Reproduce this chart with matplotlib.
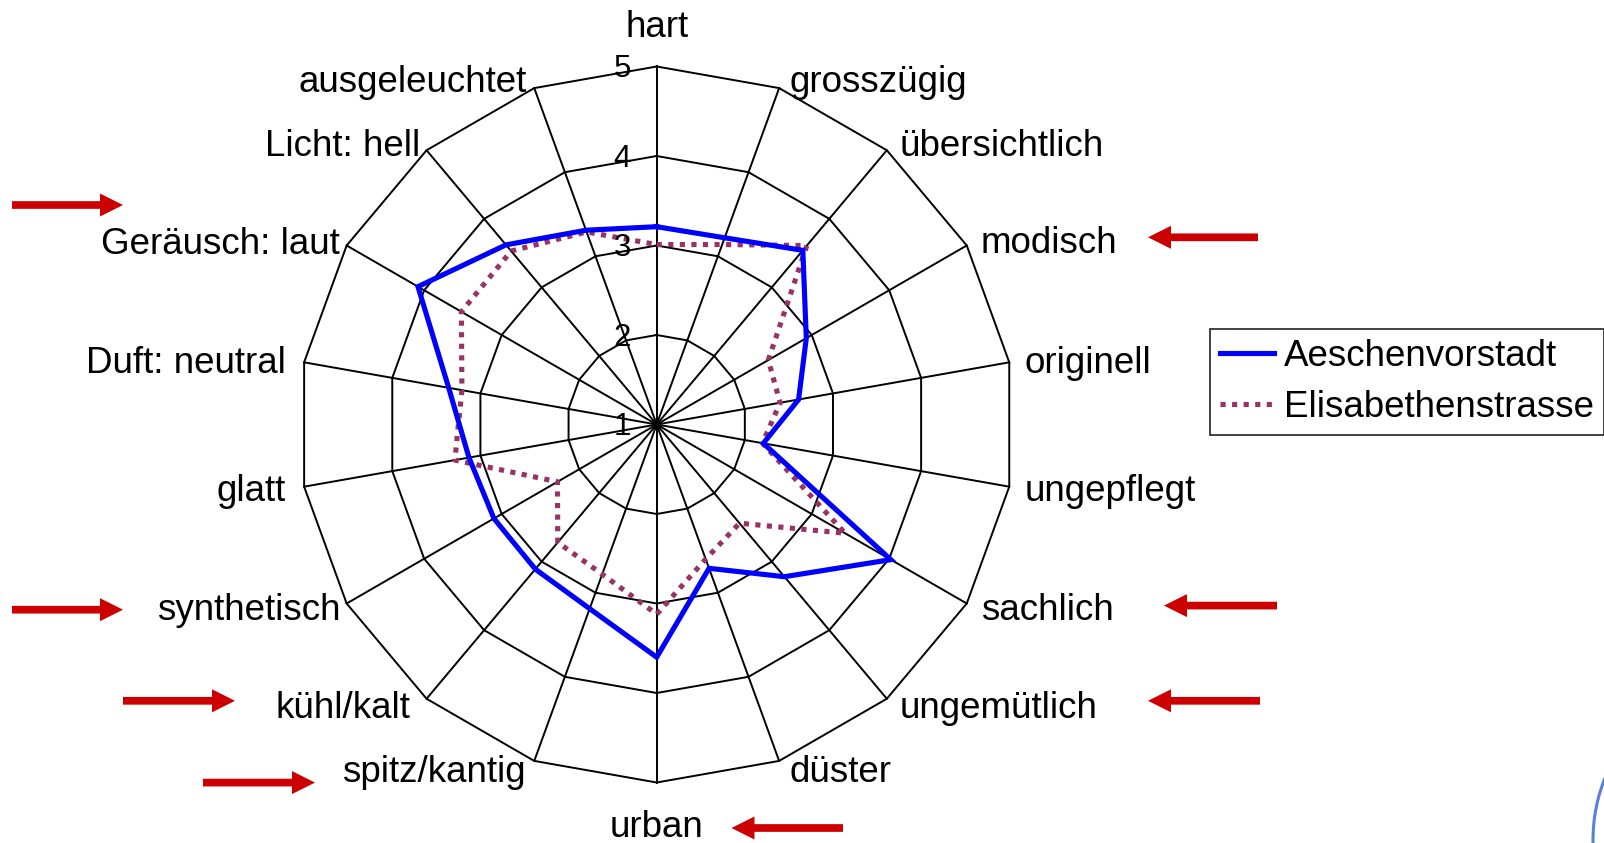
import numpy as np
import matplotlib
matplotlib.use("Agg")
import matplotlib.pyplot as plt
from matplotlib.patches import FancyArrow, Circle
from matplotlib.lines import Line2D

plt.rcParams['font.family'] = ['Liberation Sans', 'DejaVu Sans']

# ---------------- data ----------------
categories = ["hart", "grosszügig", "übersichtlich", "modisch", "originell",
              "ungepflegt", "sachlich", "ungemütlich", "düster", "urban",
              "spitz/kantig", "kühl/kalt", "synthetisch", "glatt",
              "Duft: neutral", "Geräusch: laut", "Licht: hell", "ausgeleuchtet"]
aeschenvorstadt = [3.21, 3.22, 3.54, 2.93, 2.61, 2.21, 4.02, 3.22, 2.71, 3.60,
                   3.19, 3.11, 3.10, 3.13, 3.36, 4.08, 3.62, 3.31]
elisabethenstrasse = [3.01, 3.14, 3.61, 2.44, 2.40, 2.20, 3.43, 2.44, 2.60, 3.12,
                      2.78, 2.72, 2.28, 3.29, 3.21, 3.52, 3.53, 3.29]
series_names = ["Aeschenvorstadt", "Elisabethenstrasse"]
tick_values = [1, 2, 3, 4, 5]
tick_labels = ["1", "2", "3", "4", "5"]

# ---------------- layout ----------------
# horizontal offsets (pixels) of each category label from its outer vertex
label_dx = [0, 10.4, 12.5, 14.1, 14.9, 14.9, 14.1, 12.5, 10.4, 0,
            -8.3, -16.5, -5.9, -17.9, -17.9, -6.9, -6.3, -7.3]

W, H = 1604, 843
fig = plt.figure(figsize=(W / 100, H / 100), dpi=100)
cx, cy, R = 656.7, 424.5, 358.0
ax = fig.add_axes([(cx - R) / W, (H - cy - R) / H, 2 * R / W, 2 * R / H],
                  projection='polar')
ax.set_theta_zero_location('N')
ax.set_theta_direction(-1)
ax.set_ylim(1, 5)
ax.grid(False)
ax.set_xticks([])
ax.set_yticks([])
ax.spines['polar'].set_visible(False)
ax.patch.set_visible(False)

n = len(categories)
theta = np.arange(n) * 2 * np.pi / n
theta_c = np.append(theta, theta[0])

# polygon grid
for lvl in tick_values[1:]:
    ax.plot(theta_c, [lvl] * (n + 1), color='black', lw=1.4, clip_on=False, zorder=1)
for t in theta:
    ax.plot([t, t], [tick_values[0], tick_values[-1]], color='black', lw=1.4,
            clip_on=False, zorder=1)

# series
blue = '#0000FF'
purple = '#993366'
ax.plot(theta_c, aeschenvorstadt + aeschenvorstadt[:1], color=blue, lw=3.7,
        clip_on=False, zorder=3, solid_joinstyle='miter')
ax.plot(theta_c, elisabethenstrasse + elisabethenstrasse[:1], color=purple, lw=3.7,
        linestyle=(0, (1, 1.25)), dash_capstyle='butt', clip_on=False, zorder=2)

# tick labels along the top spoke
for v, lab in zip(tick_values, tick_labels):
    ax.annotate(lab, xy=(0, v), xytext=(-26, -3), textcoords='offset pixels',
                ha='right', va='center', fontsize=22.5, annotation_clip=False,
                zorder=4)

# category labels
for t, lab, dx in zip(theta, categories, label_dx):
    a = np.pi / 2 - t  # math angle
    c, s = np.cos(a), np.sin(a)
    if abs(c) < 1e-6:
        dy, ha = 42 * np.sign(s) - 3, 'center'
    else:
        dy = 9 * s - 3
        ha = 'left' if c > 0 else 'right'
    ax.annotate(lab, xy=(t, 5), xytext=(dx, dy), textcoords='offset pixels',
                ha=ha, va='center', fontsize=26.5, annotation_clip=False)

# legend
handles = [Line2D([], [], color=blue, lw=3.7),
           Line2D([], [], color=purple, lw=3.7, linestyle=(0, (1, 1.25)),
                  dash_capstyle='butt')]
leg = fig.legend(handles, series_names, loc='upper left',
                 bbox_to_anchor=(1210 / W, 1 - 328.5 / H), fontsize=26.5,
                 frameon=True, fancybox=False, edgecolor='black',
                 handlelength=1.45, handletextpad=0.28, labelspacing=0.44,
                 borderpad=0.28, borderaxespad=0)
leg.get_frame().set_linewidth(1.3)

# overlay for annotation arrows (figure pixel coordinates)
ov = fig.add_axes([0, 0, 1, 1])
ov.set_xlim(0, W)
ov.set_ylim(H, 0)
ov.axis('off')
ov.patch.set_visible(False)
arrows = [(12, 123, 205), (1258, 1148, 237.3), (12, 123, 609.7),
          (1277, 1164, 605.6), (123, 235, 700.8), (1260, 1148, 700.8),
          (203, 315, 782.6), (843, 731.5, 828)]
for x0, x1, yy in arrows:
    ov.add_patch(FancyArrow(x0, yy, x1 - x0, 0, width=7.7, head_width=23,
                            head_length=23, length_includes_head=True,
                            color='#CC0000', lw=0))
ov.add_patch(Circle((1760, 840), 167, fill=False, edgecolor='#5B80D8', lw=2.2))

fig.savefig('out.png', dpi=100, facecolor='white')
